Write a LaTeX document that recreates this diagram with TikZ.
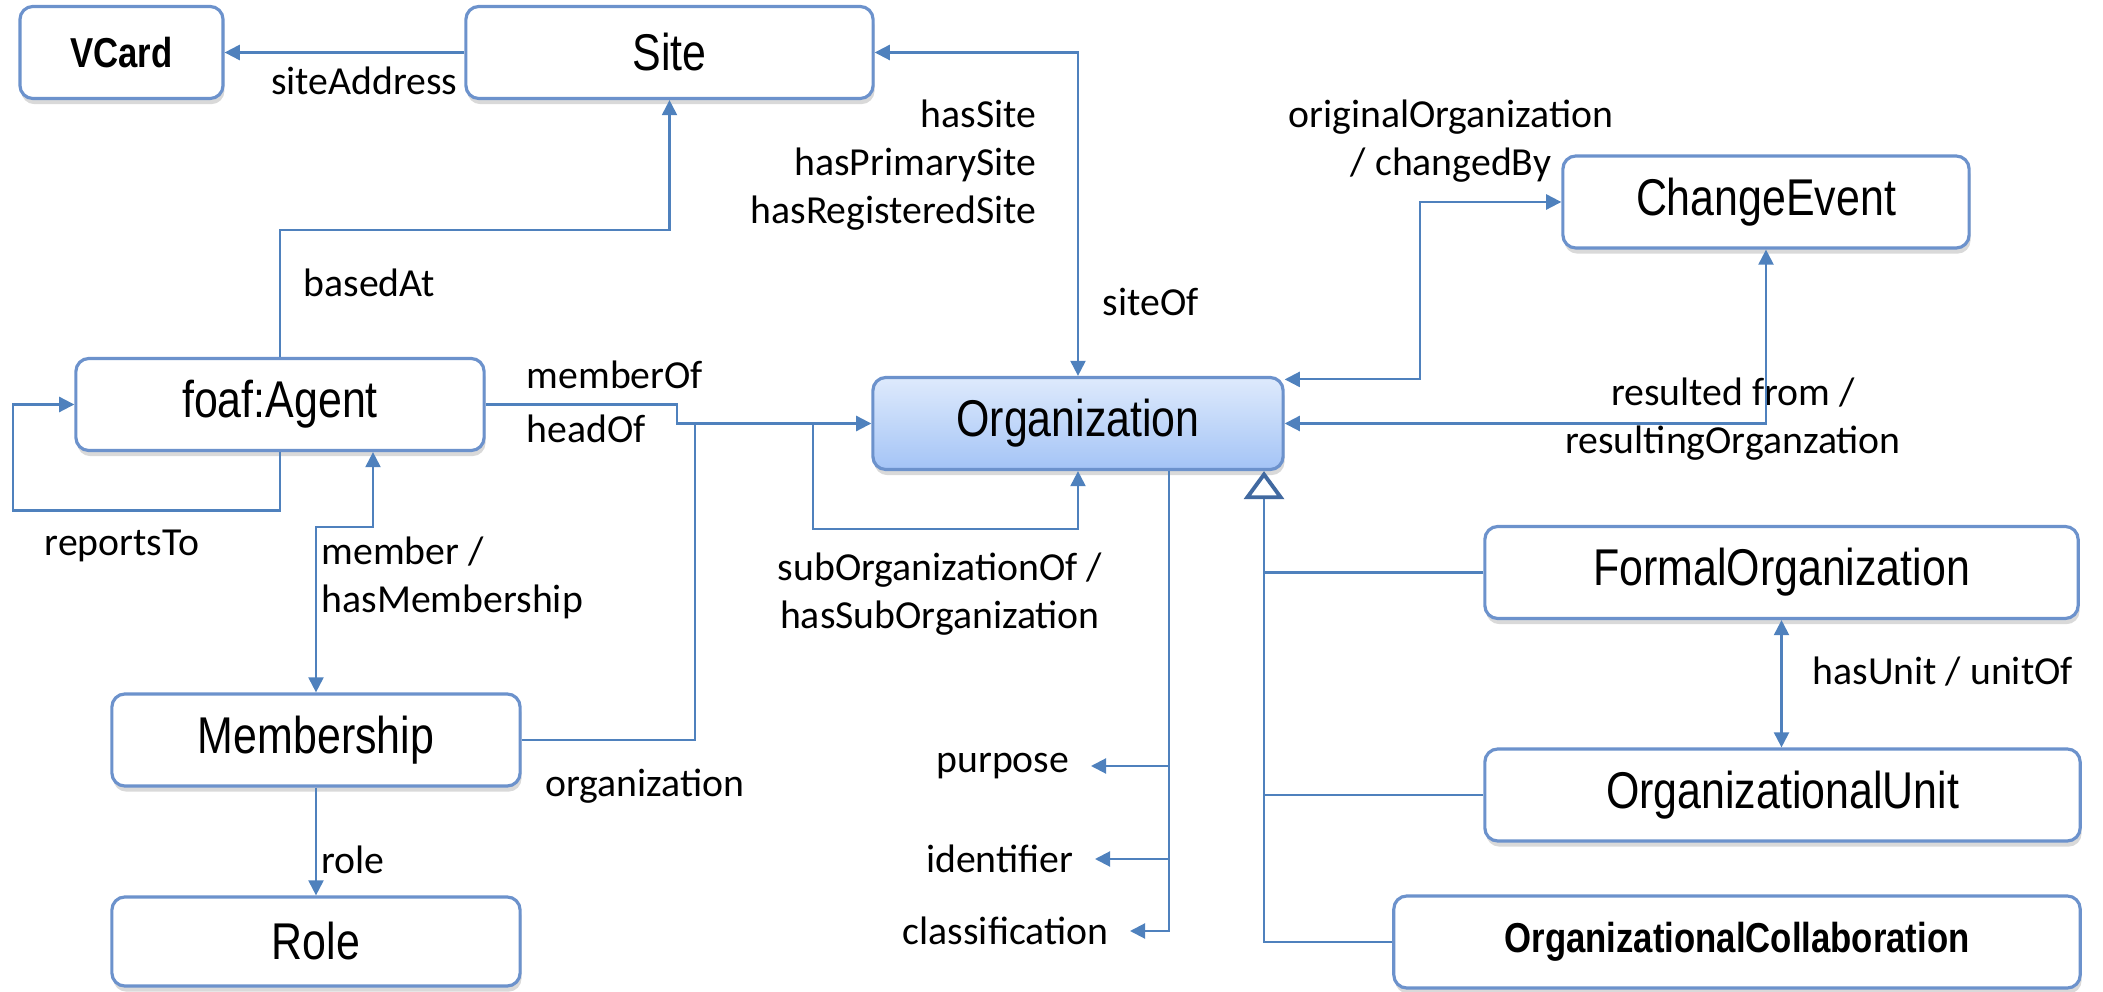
\documentclass[tikz,border=0pt]{standalone}
\usepackage{fontspec}
\setmainfont{Carlito}
\newfontfamily\boxfont[FakeStretch=0.83]{Liberation Sans}
\usetikzlibrary{arrows.meta,calc,shadows}
\definecolor{linkblue}{RGB}{79,129,189}
\definecolor{boxline}{RGB}{108,146,204}
\definecolor{orgtop}{RGB}{222,234,252}
\definecolor{orgbot}{RGB}{164,196,246}
\definecolor{inhblue}{RGB}{65,105,160}

\begin{document}
\begin{tikzpicture}[x=0.01cm, y=-0.01cm,
    box/.style = {draw=boxline, line width=0.9pt, rounded corners=0.13cm, fill=white,
      minimum height=0.92cm, inner sep=0pt,
      font=\boxfont\fontsize{14.7}{17}\selectfont,
      drop shadow={shadow xshift=0.4pt, shadow yshift=-1.6pt, opacity=0.3}},
    smallbox/.style = {box, font=\boxfont\bfseries\fontsize{11.9}{14}\selectfont},
    orgbox/.style = {box, top color=orgtop, bottom color=orgbot},
    lbl/.style = {font=\fontsize{11.3}{13.6}\selectfont, inner sep=0pt},
    link/.style = {draw=linkblue, line width=0.6pt},
    arr/.style = {link, -{Triangle[length=4.3pt, width=4.3pt]}},
    arrboth/.style = {link, {Triangle[length=4.3pt, width=4.3pt]}-{Triangle[length=4.3pt, width=4.3pt]}},
    inherit/.style = {link, -{Triangle[open, fill=white, length=8pt, width=11.4pt, line width=1.1pt, color=inhblue]}}]

	\useasboundingbox (0,0) rectangle (2103,992);

	% classes
	\node[smallbox, minimum width=2.03cm] (vcard) at (121.5,52.5) {VCard};
	\node[box, minimum width=4.07cm] (site) at (669.5,52.5) {Site};
	\node[box, minimum width=4.06cm] (event) at (1766,202) {ChangeEvent};
	\node[box, minimum width=4.08cm] (agent) at (280,404.5) {foaf:Agent};
	\node[orgbox, minimum width=4.10cm] (org) at (1078,423.5) {Organization};
	\node[box, minimum width=5.93cm] (formal) at (1781.5,572.5) {FormalOrganization};
	\node[box, minimum width=5.95cm] (unit) at (1782.5,795) {OrganizationalUnit};
	\node[box, minimum width=4.08cm] (mship) at (316,740) {Membership};
	\node[box, minimum width=4.08cm, minimum height=0.89cm] (role) at (316,941.5) {Role};
	\node[smallbox, minimum width=6.86cm] (collab) at (1737,942) {OrganizationalCollaboration};

	% property labels
	\node[lbl, anchor=east] (lsiteaddr) at (458,81) {siteAddress};
	\node[lbl, anchor=east, align=right] (lhassite) at (1037,165) {hasSite\\hasPrimarySite\\hasRegisteredSite};
	\node[lbl, anchor=west] (lsiteof) at (1102,302) {siteOf};
	\node[lbl, align=center] (lchanged) at (1451,141) {originalOrganization\\/ changedBy};
	\node[lbl, align=center] (lresult) at (1733,419) {resulted from /\\resultingOrganzation};
	\node[lbl, anchor=west] (lbased) at (303,283) {basedAt};
	\node[lbl] (lreports) at (122,546) {reportsTo};
	\node[lbl, anchor=west] (lmemberof) at (526,375) {memberOf};
	\node[lbl, anchor=west] (lheadof) at (526,429) {headOf};
	\node[lbl, anchor=west, align=left] (lmember) at (321,578) {member /\\hasMembership};
	\node[lbl] (lorgn) at (645,786) {organization};
	\node[lbl, align=center] (lsuborg) at (940,594) {subOrganizationOf /\\hasSubOrganization};
	\node[lbl, anchor=west] (lrole) at (321,860) {role};
	\node[lbl, anchor=west] (lunitof) at (1812,672) {hasUnit / unitOf};
	\node[lbl, anchor=east, inner xsep=6pt] (lpurpose) at (1091,766) {purpose};
	\node[lbl, anchor=east, inner xsep=6pt] (lident) at (1095,859) {identifier};
	\node[lbl, anchor=east, inner xsep=6pt] (lclass) at (1130,931) {classification};

	\coordinate (attrtop) at ($(org.south)+(91,0)$);
	\coordinate (inhtop) at ($(org.south)+(186,0)$);

	% relations
	\draw[arr] (site) -- (vcard);
	\draw[arrboth] (site.east) -| (org.north);
	\draw[arr] (agent.north) |- ($(site.south)+(0,130)$) -- (site.south);
	\draw[arrboth] ([yshift=-1pt]org.north east) -| ($(event.west)+(-141,0)$) -- (event.west);
	\draw[arrboth] (org.east) -| (event.south);
	\draw[arr] (agent.south) |- ($(agent.west)+(-61,106)$) |- (agent.west);
	\draw[arr] (agent.east) -| ($(org.west)+(-194,0)$) -- (org.west);
	\draw[link] (mship.east) -| ($(org.west)+(-176,0)$);
	\draw[arr] ($(org.west)+(-58,0)$) |- ($(org.south)+(0,58)$) -- (org.south);
	\draw[arrboth] ($(agent.south)+(93,0)$) |- ($(mship.north)+(0,-165)$) -- (mship.north);
	\draw[arr] (mship) -- (role);
	\draw[arrboth] (formal.south) -- (formal.south |- unit.north);

	% attributes
	\draw[arr] (attrtop) |- (lclass);
	\draw[arr] (attrtop |- lpurpose) -- (lpurpose);
	\draw[arr] (attrtop |- lident) -- (lident);

	% subclasses
	\draw[inherit] (collab.west) -| (inhtop);
	\draw[link] (formal.west) -- (formal.west -| inhtop);
	\draw[link] (unit.west) -- (unit.west -| inhtop);
\end{tikzpicture}
\end{document}
